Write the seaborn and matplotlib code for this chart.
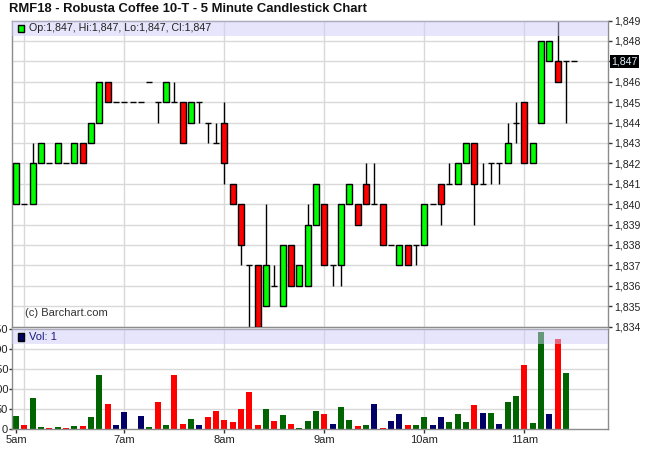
import numpy as np
import pandas as pd
import seaborn as sns
import matplotlib.pyplot as plt
from matplotlib.patches import Rectangle

# 5-minute bars
opens = [1840, 1840, 1840, 1842, 1842, 1842, 1842, 1842, 1843, 1843,
         1844, 1846, 1845, 1845, 1845, 1845, 1846, 1845, 1845, 1845,
         1845, 1844, 1845, 1844, 1843, 1844, 1841, 1840, 1837, 1837,
         1835, 1836, 1835, 1838, 1836, 1836, 1839, 1840, 1837, 1837,
         1840, 1840, 1841, 1840, 1840, 1838, 1837, 1838, 1838, 1838,
         1840, 1841, 1841, 1841, 1842, 1843, 1841, 1842, 1842, 1842,
         1844, 1845, 1842, 1844, 1847, 1847, 1847, 1847]
highs = [1842, 1840, 1843, 1843, 1842, 1843, 1842, 1843, 1843, 1844,
         1846, 1846, 1845, 1845, 1845, 1845, 1846, 1845, 1846, 1846,
         1845, 1845, 1845, 1844, 1844, 1845, 1841, 1840, 1837, 1837,
         1840, 1837, 1838, 1838, 1837, 1840, 1841, 1840, 1837, 1840,
         1841, 1840, 1842, 1842, 1840, 1838, 1838, 1838, 1838, 1840,
         1840, 1841, 1842, 1842, 1843, 1843, 1842, 1842, 1842, 1844,
         1845, 1845, 1843, 1848, 1848, 1849, 1847, 1847]
lows = [1840, 1840, 1840, 1842, 1842, 1842, 1842, 1842, 1842, 1843,
        1844, 1845, 1845, 1845, 1845, 1845, 1846, 1844, 1845, 1845,
        1843, 1844, 1844, 1843, 1843, 1841, 1840, 1837, 1834, 1834,
        1835, 1836, 1835, 1836, 1836, 1836, 1839, 1837, 1836, 1836,
        1840, 1839, 1840, 1840, 1838, 1838, 1837, 1837, 1837, 1838,
        1840, 1839, 1841, 1841, 1842, 1839, 1841, 1841, 1841, 1842,
        1843, 1842, 1842, 1844, 1847, 1846, 1844, 1847]
closes = [1842, 1840, 1842, 1843, 1842, 1843, 1842, 1843, 1842, 1844,
          1846, 1845, 1845, 1845, 1845, 1845, 1846, 1845, 1846, 1845,
          1843, 1845, 1845, 1844, 1843, 1842, 1840, 1838, 1837, 1834,
          1837, 1836, 1838, 1836, 1837, 1839, 1841, 1837, 1837, 1840,
          1841, 1839, 1840, 1840, 1838, 1838, 1838, 1837, 1838, 1840,
          1840, 1840, 1841, 1842, 1843, 1841, 1841, 1842, 1842, 1843,
          1844, 1842, 1843, 1848, 1848, 1846, 1847, 1847]
volumes = [32, 10, 77, 6, 3, 5, 3, 7, 8, 30,
           135, 62, 10, 42, 0, 32, 5, 67, 10, 135,
           12, 25, 10, 30, 45, 22, 17, 50, 92, 10,
           50, 20, 35, 12, 2, 20, 45, 37, 12, 55,
           22, 7, 10, 62, 2, 20, 37, 10, 10, 30,
           10, 30, 17, 37, 17, 60, 40, 40, 12, 67,
           82, 160, 15, 242, 37, 225, 140, 1]

time_labels = ["5am", "7am", "8am", "9am", "10am", "11am"]
label_bars = [0, 13, 25, 37, 49, 61]
grid_bars = [1, 13, 25, 37, 49, 61]
price_ticks = list(range(1834, 1850))
vol_ticks = [0, 50, 100, 150, 200, 250]

df = pd.DataFrame({"bar": np.arange(len(opens)), "open": opens, "high": highs,
                   "low": lows, "close": closes, "volume": volumes})
chg = df["close"].diff().fillna(1)
df["dir"] = np.where(chg > 0, "up", np.where(chg < 0, "down", "flat"))

sns.set_style("white")
plt.rcParams["font.family"] = ["Liberation Sans", "DejaVu Sans"]

W, H = 650, 470
fig = plt.figure(figsize=(6.5, 4.7), dpi=100)
ax = fig.add_axes([12.3 / W, 1 - 326.5 / H, 596 / W, 306 / H])
axv = fig.add_axes([12.3 / W, 1 - 429 / H, 596 / W, 99.7 / H])

xlim = (-0.44, 71.08)
frame_col = "#8c8c8c"
grid_col = "#d9d9d9"
band_col = (206 / 255, 205 / 255, 249 / 255)

# ---- price panel ----
for p in price_ticks:
    ax.axhline(p, color=grid_col, lw=1, zorder=0)
for b in grid_bars:
    ax.axvline(b, color=grid_col, lw=1, zorder=0)

bw = 0.72
for r in df.itertuples():
    if r.high > r.low:
        ax.vlines(r.bar, r.low, r.high, color="black", lw=1, zorder=2)
    if r.open == r.close:
        ax.hlines(r.open, r.bar - bw / 2, r.bar + bw / 2, color="black", lw=1, zorder=3)
    else:
        col = "#00ff00" if r.close > r.open else "#ff0000"
        lo, hi = min(r.open, r.close), max(r.open, r.close)
        ax.add_patch(Rectangle((r.bar - bw / 2, lo), bw, hi - lo, facecolor=col,
                               edgecolor="black", lw=1, zorder=3))

ax.axhspan(1848.26, 1849, color=band_col, alpha=0.5, lw=0, zorder=4)
ax.set_xlim(*xlim)
ax.set_ylim(1834, 1849)
ax.set_xticks([])
ax.yaxis.tick_right()
last = df.iloc[-1]
ax.set_yticks(price_ticks)
# the last price gets its own boxed label, so leave that tick label empty
ax.set_yticklabels(["" if p == last["close"] else f"{p:,}" for p in price_ticks])
ax.tick_params(axis="y", right=True, length=3, width=1, color="#333333", pad=1,
               labelsize=7.6, labelcolor="#222222")
for s in ax.spines.values():
    s.set_color(frame_col)
    s.set_linewidth(1)

ax.text(1.0045, last["close"], f"{int(last['close']):,}", transform=ax.get_yaxis_transform(),
        ha="left", va="center", fontsize=7.6, color="#dff0ff", zorder=10, clip_on=False,
        bbox=dict(boxstyle="square,pad=0.12", facecolor="black", edgecolor="none"))

# legend strip
fig.patches.append(Rectangle((18.3 / W, 1 - 31.7 / H), 6 / W, 7 / H, transform=fig.transFigure,
                             facecolor="#00ff00", edgecolor="black", lw=1))
fig.text(29 / W, 1 - 28 / H,
         f"Op:{int(last['open']):,}, Hi:{int(last['high']):,}, Lo:{int(last['low']):,}, Cl:{int(last['close']):,}",
         ha="left", va="center", fontsize=7.7, color="#222222")
fig.text(25 / W, 1 - 313 / H, "(c) Barchart.com", ha="left", va="center",
         fontsize=8, color="#333333")

# ---- volume panel ----
for v in vol_ticks[1:-1]:
    axv.axhline(v, color=grid_col, lw=1, zorder=0)
for b in grid_bars:
    axv.axvline(b, color=grid_col, lw=1, zorder=0)

sns.barplot(data=df, x="bar", y="volume", hue="dir", native_scale=True, dodge=False,
            palette={"up": "#006400", "down": "#ff0000", "flat": "#000066"},
            width=0.72, saturation=1, linewidth=0, legend=False, ax=axv, zorder=2)
axv.axhspan(212.5, 250, color=band_col, alpha=0.5, lw=0, zorder=4)

axv.set_xlim(*xlim)
axv.set_ylim(0, 250)
axv.set_xticks(label_bars)
axv.set_xticklabels(time_labels)
axv.set_yticks(vol_ticks)
axv.set_yticklabels([str(v) for v in vol_ticks])
axv.set_xlabel("")
axv.set_ylabel("")
axv.tick_params(axis="x", bottom=True, length=3, width=1, color="#333333", pad=1,
                labelsize=8, labelcolor="#222222")
axv.tick_params(axis="y", left=True, length=2, width=1, color="#333333", pad=1,
                labelsize=8, labelcolor="#222222")
for s in axv.spines.values():
    s.set_color(frame_col)
    s.set_linewidth(1)

fig.patches.append(Rectangle((17.5 / W, 1 - 340.7 / H), 6.5 / W, 7.5 / H, transform=fig.transFigure,
                             facecolor="#000066", edgecolor="black", lw=1))
fig.text(29 / W, 1 - 337 / H, f"Vol: {volumes[-1]}", ha="left", va="center",
         fontsize=8, color="#1a1a80")

fig.text(9 / W, 1 - 8.5 / H, "RMF18 - Robusta Coffee 10-T - 5 Minute Candlestick Chart",
         ha="left", va="center", fontsize=9.4, fontweight="bold", color="#111111")

fig.savefig("out.png", dpi=100)
